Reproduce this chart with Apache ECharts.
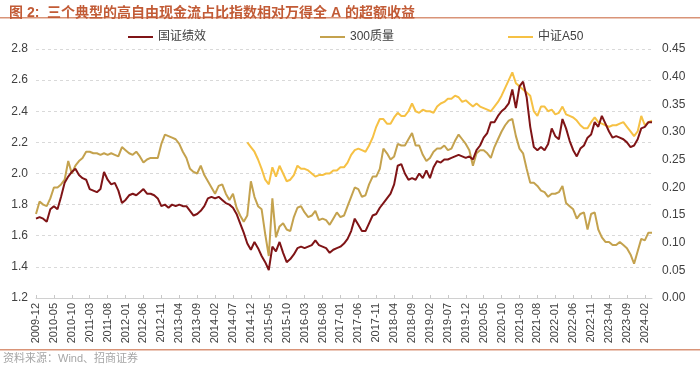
<!DOCTYPE html>
<html><head><meta charset="utf-8">
<script src="https://cdn.jsdelivr.net/npm/echarts@6/dist/echarts.min.js"></script>
<style>html,body{margin:0;padding:0;background:#fff}#c{width:700px;height:373px}</style>
</head><body><div id="c"></div>
<script>
// Monthly categories from 2009-12 to 2024-04
const startYear = 2009, startMonth = 12, monthCount = 173;
const categories = [];
for (let i = 0; i < monthCount; i++) {
  const t = startYear * 12 + (startMonth - 1) + i;
  const y = Math.floor(t / 12), m = t % 12 + 1;
  categories.push(y + '-' + (m < 10 ? '0' + m : m));
}
const seriesNames = ['国证绩效', '300质量', '中证A50'];
const leftTicks = [1.2, 2.8, 0.2];
const rightTicks = [0, 0.45, 0.05];

const guozheng = [
1.71,1.72,1.71,1.69,1.77,1.79,1.77,1.85,1.94,1.98,
2.01,2.03,1.99,1.97,1.96,1.90,1.89,1.88,1.90,2.01,
1.96,1.93,1.94,1.89,1.81,1.83,1.86,1.87,1.86,1.88,
1.90,1.87,1.87,1.86,1.84,1.79,1.80,1.78,1.80,1.79,
1.80,1.79,1.79,1.76,1.73,1.74,1.76,1.79,1.84,1.85,
1.84,1.85,1.83,1.81,1.80,1.78,1.74,1.68,1.62,1.55,
1.51,1.56,1.52,1.47,1.43,1.38,1.53,1.50,1.56,1.49,
1.43,1.45,1.48,1.52,1.53,1.52,1.53,1.54,1.57,1.54,
1.53,1.52,1.49,1.51,1.52,1.53,1.55,1.58,1.63,1.71,
1.67,1.63,1.63,1.68,1.73,1.74,1.78,1.81,1.84,1.87,
1.93,2.05,2.06,2.00,1.96,1.97,1.96,2.00,1.97,2.02,
1.97,2.04,2.08,2.07,2.09,2.09,2.10,2.11,2.12,2.11,
2.10,2.11,2.09,2.15,2.18,2.23,2.26,2.33,2.33,2.37,
2.40,2.42,2.45,2.54,2.42,2.56,2.59,2.49,2.30,2.17,
2.15,2.17,2.15,2.19,2.29,2.24,2.22,2.35,2.29,2.21,
2.15,2.11,2.16,2.18,2.23,2.25,2.33,2.30,2.37,2.32,
2.27,2.23,2.24,2.23,2.22,2.20,2.17,2.18,2.22,2.29,
2.30,2.33,2.33];

const zhiliang = [
1.74,1.82,1.80,1.79,1.84,1.91,1.91,1.93,1.96,2.08,
2.00,2.05,2.08,2.10,2.14,2.14,2.13,2.13,2.12,2.13,
2.12,2.13,2.12,2.11,2.17,2.15,2.13,2.12,2.14,2.11,
2.07,2.09,2.10,2.10,2.10,2.19,2.25,2.24,2.23,2.22,
2.19,2.14,2.10,2.03,2.01,2.00,2.05,1.99,1.95,1.91,
1.87,1.92,1.93,1.87,1.83,1.87,1.78,1.73,1.69,1.73,
1.95,1.85,1.79,1.77,1.61,1.47,1.84,1.59,1.66,1.68,
1.64,1.63,1.72,1.78,1.79,1.75,1.72,1.73,1.76,1.70,
1.71,1.70,1.67,1.71,1.75,1.72,1.73,1.79,1.85,1.91,
1.90,1.85,1.86,1.93,1.98,1.98,2.03,2.16,2.13,2.09,
2.11,2.19,2.18,2.18,2.22,2.26,2.18,2.18,2.12,2.08,
2.10,2.14,2.16,2.16,2.18,2.15,2.16,2.21,2.25,2.22,
2.19,2.15,2.05,2.13,2.15,2.15,2.13,2.10,2.17,2.22,
2.27,2.31,2.34,2.35,2.24,2.16,2.13,2.03,1.94,1.94,
1.92,1.89,1.88,1.85,1.87,1.87,1.88,1.92,1.81,1.79,
1.77,1.71,1.74,1.75,1.64,1.74,1.75,1.64,1.59,1.56,
1.56,1.54,1.54,1.56,1.54,1.52,1.48,1.42,1.50,1.58,
1.57,1.62,1.62];

// 中证A50 starts at 2014-11 (index 59)
const a50Start = 59;
const a50 = [
2.20,2.17,2.14,2.09,2.03,1.96,1.93,2.04,1.98,2.05,2.00,
1.95,1.96,1.99,2.05,2.03,2.03,2.02,2.00,1.98,1.99,
1.99,2.00,2.00,2.02,2.02,2.04,2.04,2.07,2.12,2.15,
2.16,2.15,2.14,2.18,2.23,2.30,2.35,2.35,2.32,2.32,
2.36,2.39,2.37,2.37,2.40,2.45,2.40,2.39,2.41,2.40,
2.40,2.39,2.43,2.45,2.46,2.48,2.48,2.50,2.49,2.46,
2.47,2.45,2.43,2.45,2.43,2.42,2.41,2.40,2.43,2.46,
2.50,2.55,2.60,2.65,2.58,2.56,2.54,2.52,2.50,2.40,
2.37,2.43,2.43,2.40,2.41,2.38,2.39,2.43,2.38,2.37,
2.36,2.34,2.31,2.29,2.29,2.33,2.36,2.33,2.32,2.31,
2.30,2.31,2.31,2.32,2.33,2.30,2.27,2.24,2.27,2.37,
2.31,2.33,2.34];
const a50Full = new Array(a50Start).fill(null).concat(a50);

const colors = ['#7f1416', '#c4a24e', '#f6c144'];
const FONT = '"Liberation Sans", "Noto Sans CJK SC", sans-serif';

const chart = echarts.init(document.getElementById('c'), null, {renderer: 'canvas'});
const showIdx = (i) => i % 5 === 0;
function legend(name, left) {
  return {
    data: [name], left: left, top: 26, icon: 'rect', itemWidth: 25, itemHeight: 2,
    itemGap: 0, textStyle: {fontSize: 12, color: '#404040', fontFamily: FONT}
  };
}
chart.setOption({
  animation: false,
  color: colors,
  textStyle: {fontFamily: FONT},
  title: {
    text: '图 2:  三个典型的高自由现金流占比指数相对万得全 A 的超额收益',
    left: 4, top: 1,
    textStyle: {fontSize: 14, fontWeight: 'bold', color: '#c25b36', fontFamily: FONT}
  },
  legend: [legend(seriesNames[0], 123), legend(seriesNames[1], 315), legend(seriesNames[2], 503)],
  graphic: [
    {type: 'rect', left: 0, top: 17, shape: {width: 700, height: 1.5}, style: {fill: '#d99478'}},
    {type: 'rect', left: 0, top: 349, shape: {width: 700, height: 1.5}, style: {fill: '#d99478'}},
    {type: 'text', left: 3, top: 353, style: {text: '资料来源：Wind、招商证券', fontSize: 11, fill: '#a6a6a6', fontFamily: FONT}}
  ],
  grid: {left: 36, right: 48, top: 49, bottom: 75, containLabel: false},
  xAxis: {
    type: 'category', data: categories, boundaryGap: false,
    axisLine: {lineStyle: {color: '#d0d0d0'}},
    axisTick: {interval: showIdx, inside: true, length: 3, lineStyle: {color: '#c8c8c8'}},
    axisLabel: {interval: showIdx, rotate: 90, fontSize: 11, color: '#404040', margin: 5, fontFamily: FONT}
  },
  yAxis: [
    {
      type: 'value', min: leftTicks[0], max: leftTicks[1], interval: leftTicks[2],
      axisLine: {show: false}, axisTick: {show: false},
      axisLabel: {fontSize: 12, color: '#404040', margin: 8, formatter: v => v.toFixed(1)},
      splitLine: {lineStyle: {color: '#d9d9d9', type: [3, 3]}}
    },
    {
      type: 'value', min: rightTicks[0], max: rightTicks[1], interval: rightTicks[2],
      axisLine: {show: false}, axisTick: {show: false},
      axisLabel: {fontSize: 12, color: '#404040', margin: 10, formatter: v => v.toFixed(2)},
      splitLine: {show: false}
    }
  ],
  series: [
    {name: seriesNames[0], type: 'line', data: guozheng, showSymbol: false, lineStyle: {width: 2}, z: 3},
    {name: seriesNames[1], type: 'line', data: zhiliang, showSymbol: false, lineStyle: {width: 2}, z: 2},
    {name: seriesNames[2], type: 'line', data: a50Full, showSymbol: false, lineStyle: {width: 2}, z: 1}
  ]
});
</script></body></html>
